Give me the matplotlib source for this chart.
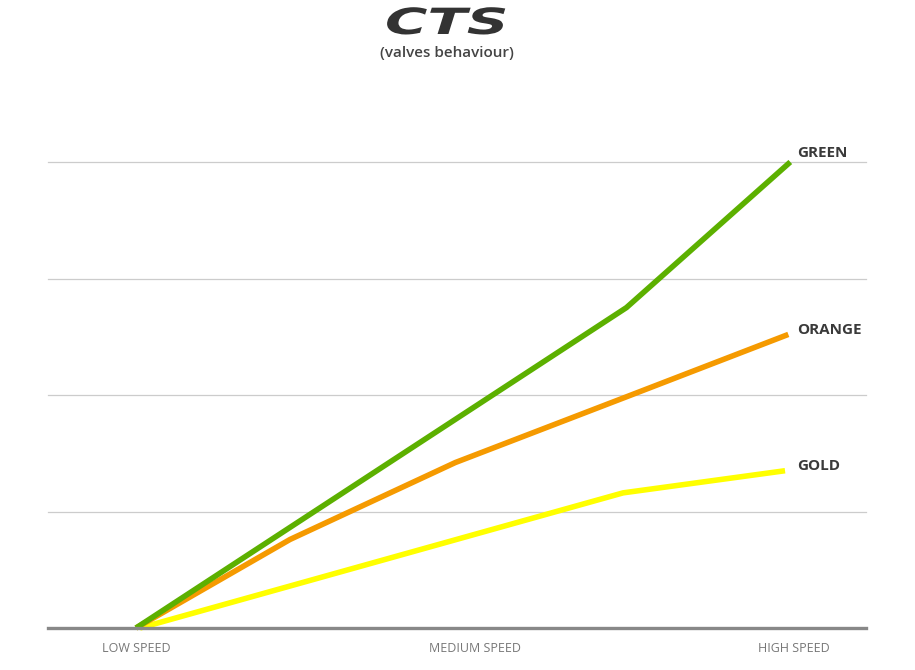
import matplotlib
matplotlib.use("Agg")
import matplotlib.pyplot as plt
from matplotlib.patheffects import AbstractPathEffect
from matplotlib.transforms import Affine2D

# ---- data ----
tick_pos = [0, 51.5, 100]
tick_labels = ["LOW SPEED", "MEDIUM SPEED", "HIGH SPEED"]

green_x = [0, 74.5, 99.4]
green_y = [0, 2.75, 4.0]
orange_x = [0, 23.4, 48.5, 74.3, 99.1]
orange_y = [0, 0.76, 1.42, 1.98, 2.52]
gold_x = [0.6, 74.0, 98.6]
gold_y = [0, 1.16, 1.35]

series_names = ["GREEN", "ORANGE", "GOLD"]
series_colors = ["#5cb000", "#f59a00", "#ffff00"]
grid_levels = [1, 2, 3, 4]


class Stretch(AbstractPathEffect):
    def __init__(self, sx):
        super().__init__()
        self.sx = sx

    def draw_path(self, renderer, gc, tpath, affine, rgbFace=None):
        renderer.draw_path(gc, tpath, Affine2D().scale(self.sx, 1) + affine, rgbFace)


W, H = 915, 670
fig = plt.figure(figsize=(W / 100, H / 100), dpi=100)
ax = fig.add_axes([48 / W, 42 / H, (866 - 48) / W, (628 - 162) / H])
ax.set_xlim(-13.37, 110.9)
ax.set_ylim(0, 4)

for g in grid_levels:
    ax.axhline(g, color="#cccccc", lw=0.9, zorder=1, clip_on=False)

for s in ["top", "right", "left"]:
    ax.spines[s].set_visible(False)
ax.spines["bottom"].set_color("#888888")
ax.spines["bottom"].set_linewidth(2.4)
ax.spines["bottom"].set_zorder(5)

series = [(green_x, green_y), (orange_x, orange_y), (gold_x, gold_y)]
order = [2, 1, 0]
for i in order:
    xs, ys = series[i]
    ax.plot(xs, ys, color=series_colors[i], lw=4, solid_capstyle="butt",
            solid_joinstyle="round", zorder=3, clip_on=False)

offsets = [(5, 6.5), (6.5, 3), (8.6, 3.5)]
for i, (xs, ys) in enumerate(series):
    ax.annotate(series_names[i], xy=(xs[-1], ys[-1]), xytext=offsets[i],
                textcoords="offset points", ha="left", va="center",
                fontsize=11, fontweight="bold", color="#3a3a3a",
                family="Open Sans", annotation_clip=False)

ax.set_yticks([])
ax.set_xticks(tick_pos)
ax.set_xticklabels(tick_labels, fontsize=9, color="#777777", family="Open Sans")
ax.tick_params(axis="x", length=0, pad=10)

fig.text(385 / W, 1 - 34 / H, "CTS", fontsize=26, fontweight="bold", style="italic",
         family="DejaVu Sans", color="#333333", ha="left", va="baseline",
         path_effects=[Stretch(1.6)])
fig.text(447 / W, 1 - 53 / H, "(valves behaviour)", fontsize=11, color="#444444",
         family="Open Sans", fontweight="semibold", ha="center", va="center")

fig.savefig("out.png", dpi=100, facecolor="white")
